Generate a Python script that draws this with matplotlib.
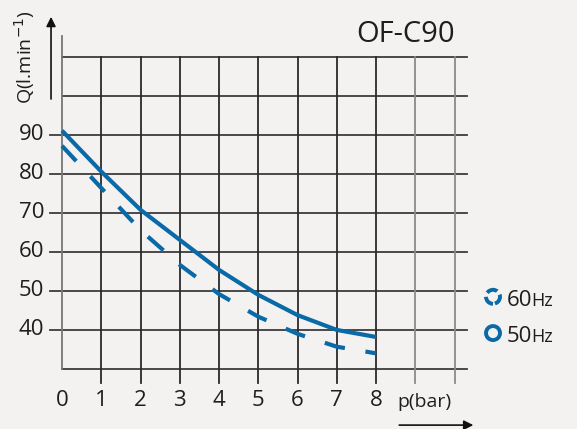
import matplotlib.pyplot as plt
from matplotlib.patches import Ellipse

pressure = [0, 1, 2, 3, 4, 5, 6, 7, 8]
flow_50hz = [91.1, 80.6, 70.8, 63.1, 55.4, 49.0, 43.8, 40.0, 38.2]
flow_60hz = [87.2, 76.4, 65.6, 56.7, 49.2, 43.4, 39.0, 35.7, 34.0]

x_ticks = [0, 1, 2, 3, 4, 5, 6, 7, 8]
y_ticks = [40, 50, 60, 70, 80, 90]
grid_x = [1, 2, 3, 4, 5, 6, 7, 8, 9, 10]
grid_y = [30, 40, 50, 60, 70, 80, 90, 100, 110]

blue = '#0a6aa8'
bg = '#f3f2f1'
txt = '#1e1e1e'
font = ['Open Sans', 'DejaVu Sans']

fig = plt.figure(figsize=(5.77, 4.29), dpi=100, facecolor=bg)
ax = fig.add_axes([0, 0, 1, 1])
ax.set_facecolor(bg)
ax.set_xlim(-1.58, 13.12)
ax.set_ylim(14.6, 124.6)
ax.axis('off')

# grid
for y in grid_y:
    ax.plot([-0.3 if y in y_ticks else 0, 10.32], [y, y], color='#3c3c3c', lw=1.3, zorder=1)
for x in grid_x:
    c = '#8a8a8a' if x >= 9 else '#2a2a2a'
    ax.plot([x, x], [26.4, 110], color=c, lw=1.3, zorder=1)
ax.plot([0, 0], [30, 115.4], color='#777777', lw=1.3, zorder=1)

# curves
ax.plot(pressure, flow_50hz, color=blue, lw=3, solid_capstyle='butt', zorder=3)
ax.plot(pressure, flow_60hz, color=blue, lw=3, dashes=(5, 5), dash_capstyle='butt', zorder=3)

# tick labels
for x in x_ticks:
    ax.text(x, 21.8, str(x), ha='center', va='center', fontsize=16, color=txt, family=font)
for y in y_ticks:
    ax.text(-0.45, y, str(y), ha='right', va='center', fontsize=16, color=txt, family=font)

# axis arrows
ax.annotate('', xy=(-0.28, 121), xytext=(-0.28, 98.5),
            arrowprops=dict(arrowstyle='-|>', color='#111111', lw=1.2, mutation_scale=14))
ax.annotate('', xy=(10.55, 15.6), xytext=(8.52, 15.6),
            arrowprops=dict(arrowstyle='-|>', color='#111111', lw=1.2, mutation_scale=14))
ax.text(-0.95, 110, 'Q(l.min$^{-1}$)', rotation=90, ha='center', va='center',
        fontsize=14, color=txt, family=font)
ax.text(8.55, 21.5, 'p(bar)', ha='left', va='center', fontsize=14, color=txt, family=font)

# title
ax.text(10.0, 115.8, 'OF-C90', ha='right', va='center', fontsize=21, color=txt, family=font)

# legend
rx = 14 / 39.25
ry = 14 / 3.9
ax.add_patch(Ellipse((10.98, 48.5), rx, ry, fill=False, ec=blue, lw=2.8,
                     ls=(3.5, (2.9, 1.1))))
ax.add_patch(Ellipse((10.98, 39.2), rx, ry, fill=False, ec=blue, lw=2.8))
for val, y in [('60', 48.5), ('50', 39.2)]:
    ax.text(11.33, y - 2.3, val, ha='left', va='baseline', fontsize=16, color=txt, family=font)
    ax.text(11.95, y - 2.3, 'Hz', ha='left', va='baseline', fontsize=13, color=txt, family=font)

fig.savefig('out.png', dpi=100, facecolor=bg)
